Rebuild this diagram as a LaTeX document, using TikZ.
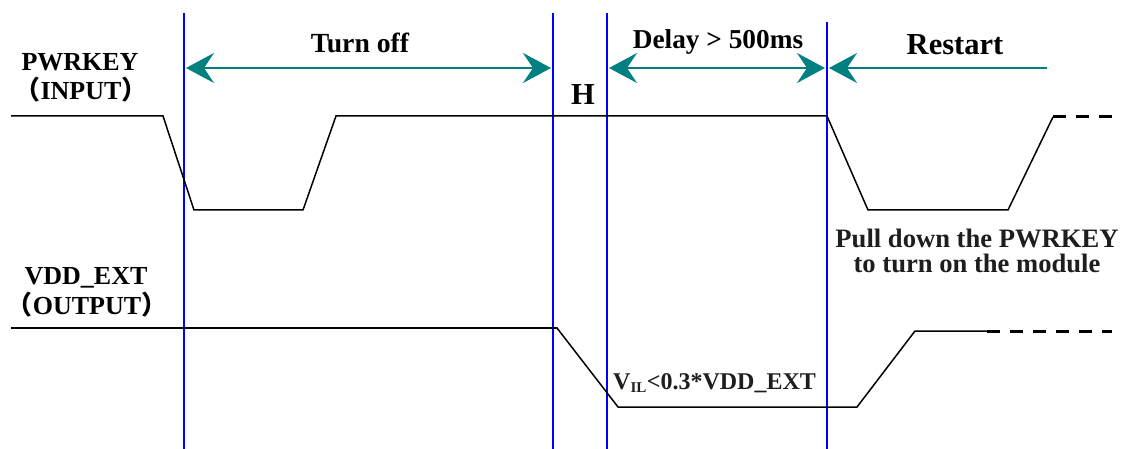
\documentclass[tikz,border=0pt]{standalone}
\usepackage{fontspec}
\setmainfont{Liberation Serif}
\newfontfamily\cjk{Noto Sans CJK SC}
\usetikzlibrary{arrows.meta}
\definecolor{tealc}{RGB}{0,128,128}
\definecolor{textgray}{RGB}{30,30,30}
\tikzset{
  vline/.style={draw=blue, line width=1.6pt},
  sig/.style={draw=black, line width=1.5pt, line join=miter},
  sigdash/.style={draw=black, line width=3pt, dash pattern=on 13pt off 10pt},
  span/.style={draw=tealc, line width=1.8pt},
  tip/.tip={Stealth[length=28pt,width=30pt,inset=10pt,fill=tealc]},
  lbl/.style={font=\bfseries\fontsize{26}{28}\selectfont, anchor=base, inner sep=0pt},
  mid/.style={font=\bfseries\fontsize{27.3}{29}\selectfont, anchor=base, inner sep=0pt},
  big/.style={font=\bfseries\fontsize{30.5}{32}\selectfont, anchor=base, inner sep=0pt},
}
\begin{document}
\begin{tikzpicture}[x=1pt,y=-1pt]
\useasboundingbox (0,0) rectangle (1128,449);
% vertical markers
\coordinate (v1t) at (184,13);  \coordinate (v1b) at (184,449);
\coordinate (v2t) at (553,13);  \coordinate (v2b) at (553,449);
\coordinate (v3t) at (607,13);  \coordinate (v3b) at (607,449);
\coordinate (v4t) at (827,22);  \coordinate (v4b) at (827,449);
\draw[vline] (v1t) -- (v1b);
\draw[vline] (v2t) -- (v2b);
\draw[vline] (v3t) -- (v3b);
\draw[vline] (v4t) -- (v4b);
% span arrows
\coordinate (a1l) at (186,68); \coordinate (a1r) at (551,68);
\coordinate (a2l) at (609,68); \coordinate (a2r) at (825,68);
\coordinate (a3l) at (829,68); \coordinate (a3r) at (1047,68);
\draw[span, {tip}-{tip}] (a1l) -- (a1r);
\draw[span, {tip}-{tip}] (a2l) -- (a2r);
\draw[span, {tip}-] (a3l) -- (a3r);
% labels of spans
\node[mid, font=\bfseries\fontsize{27.7}{29}\selectfont] (toff) at (360,53) {Turn off};
\node[mid] (dly) at (718,49) {Delay > 500ms};
\node[big] (rst) at (955,55) {Restart};
\node[big] (hh) at (583,105) {H};
% signal names
\node[lbl] (pk) at (80,71) {PWRKEY};
\node[lbl] (pki) at (81,100) {{\cjk\bfseries （}INPUT{\cjk\bfseries ）}};
\node[lbl] (vd) at (86,285) {VDD\_EXT};
\node[lbl] (vdo) at (87,315) {{\cjk\bfseries （}OUTPUT{\cjk\bfseries ）}};
% PWRKEY waveform
\coordinate (p0) at (11,116);
\coordinate (p1) at (163,116);
\coordinate (p2) at (194,210);
\coordinate (p3) at (303,210);
\coordinate (p4) at (336,116);
\coordinate (p5) at (827,116);
\coordinate (p6) at (868,210);
\coordinate (p7) at (1008,210);
\coordinate (p8) at (1053,117);
\coordinate (p9) at (1112,117);
\draw[sig] (p0) -- (p1) -- (p2) -- (p3) -- (p4) -- (p5) -- (p6) -- (p7) -- (p8);
\draw[sigdash] (p8) -- (p9);
% VDD_EXT waveform
\coordinate (q0) at (11,328);
\coordinate (q1) at (557,328);
\coordinate (q2) at (618,407);
\coordinate (q3) at (857,407);
\coordinate (q4) at (915,331);
\coordinate (q5) at (987,331);
\coordinate (q6) at (1112,331);
\draw[sig] (q0) -- (q1) -- (q2) -- (q3) -- (q4) -- (q5);
\draw[sigdash] (q5) -- (q6);
% annotations
\node[lbl, font=\bfseries\fontsize{26.6}{28}\selectfont, text=textgray] (pd1) at (977,248) {Pull down the PWRKEY};
\node[lbl, font=\bfseries\fontsize{26.6}{28}\selectfont, text=textgray] (pd2) at (977,273) {to turn on the module};
\node[lbl, font=\bfseries\fontsize{24}{26}\selectfont, text=textgray, anchor=base west] (vil) at (613,389) {V\textsubscript{\fontsize{15}{16}\selectfont IL}<0.3*VDD\_EXT};
\end{tikzpicture}
\end{document}
